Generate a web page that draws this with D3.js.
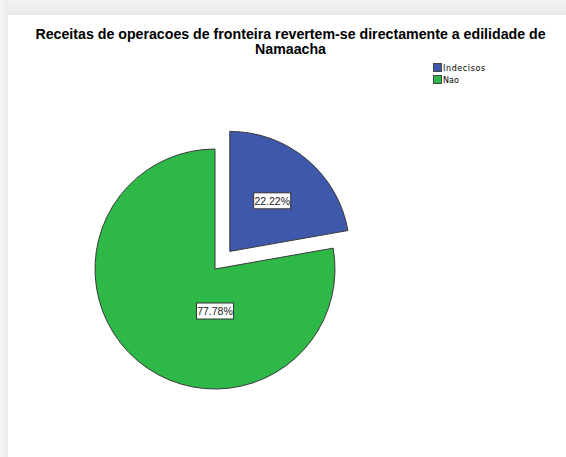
<!DOCTYPE html>
<html>
<head>
<meta charset="utf-8">
<script src="https://cdn.jsdelivr.net/npm/d3@7"></script>
<style>
  body { margin: 0; background: #fff; }
</style>
</head>
<body>
<div id="chart-area"></div>
<script>
// data
var categories = ["Indecisos", "Nao"];
var percents = [22.22, 77.78];
var colors = ["#3e58ac", "#2eb848"];
var titleLines = ["Receitas de operacoes de fronteira revertem-se directamente a edilidade de", "Namaacha"];

var width = 566;
var height = 457;

var svg = d3.select("#chart-area")
    .append("svg")
    .attr("width", width)
    .attr("height", height);

// gray frame / shadow like the viewer
var defs = svg.append("defs");
var gTop = defs.append("linearGradient").attr("id", "shTop").attr("x1", 0).attr("y1", 0).attr("x2", 0).attr("y2", 1);
gTop.append("stop").attr("offset", "0%").attr("stop-color", "#f4f4f4");
gTop.append("stop").attr("offset", "100%").attr("stop-color", "#e9e9e9");
var gLeft = defs.append("linearGradient").attr("id", "shLeft").attr("x1", 0).attr("y1", 0).attr("x2", 1).attr("y2", 0);
gLeft.append("stop").attr("offset", "0%").attr("stop-color", "#f6f6f6");
gLeft.append("stop").attr("offset", "100%").attr("stop-color", "#ececec");

svg.append("rect").attr("x", 0).attr("y", 0).attr("width", width).attr("height", 15).attr("fill", "url(#shTop)");
svg.append("rect").attr("x", 0).attr("y", 0).attr("width", 8).attr("height", height).attr("fill", "url(#shLeft)");

// title
svg.append("g")
    .selectAll("text")
    .data(titleLines)
    .enter()
    .append("text")
    .attr("x", 290.5)
    .attr("y", (d, i) => 39 + i * 15)
    .attr("text-anchor", "middle")
    .attr("font-family", "Liberation Sans, Arial, sans-serif")
    .attr("font-weight", "bold")
    .attr("font-size", "14.2px")
    .attr("fill", "#000")
    .text((d) => d);

// pie
var radius = 120;
var cx = 215, cy = 269;
var explode = 23;

var pie = d3.pie().sort(null).value((d) => d);
var arcs = pie(percents);

var arc = d3.arc().innerRadius(0).outerRadius(radius);

var g = svg.append("g")
    .attr("transform", "translate(" + cx + ", " + cy + ")");

function offset(d, i) {
    if (i !== 0) return [0, 0];
    var a = (d.startAngle + d.endAngle) / 2;
    return [Math.sin(a) * explode, -Math.cos(a) * explode];
}

g.selectAll("path")
    .data(arcs)
    .enter()
    .append("path")
    .attr("d", arc)
    .attr("transform", (d, i) => "translate(" + offset(d, i) + ")")
    .attr("fill", (d, i) => colors[i])
    .attr("stroke", "#3a3a3a")
    .attr("stroke-width", 1)
    .attr("stroke-linejoin", "round");

// labels (blue sits on its bisector, green label sits straight under the center)
function labelPos(d, i) {
    var o = offset(d, i);
    if (i === 0) {
        var a = (d.startAngle + d.endAngle) / 2;
        return [o[0] + Math.sin(a) * radius * 0.55, o[1] - Math.cos(a) * radius * 0.55];
    }
    return [0, radius * 0.35];
}

var labels = g.selectAll(".lbl")
    .data(arcs)
    .enter()
    .append("g")
    .attr("class", "lbl")
    .attr("transform", (d, i) => "translate(" + labelPos(d, i) + ")");

labels.append("rect")
    .attr("x", -18.5)
    .attr("y", -8)
    .attr("width", 37)
    .attr("height", 16)
    .attr("fill", "#fff")
    .attr("stroke", "#333")
    .attr("stroke-width", 1);

labels.append("text")
    .attr("text-anchor", "middle")
    .attr("y", 4)
    .attr("font-family", "Liberation Sans, Arial, sans-serif")
    .attr("font-size", "10.5px")
    .attr("fill", "#222")
    .text((d, i) => percents[i].toFixed(2) + "%");

// legend
var legend = svg.append("g")
    .attr("transform", "translate(433, 63)");

var items = legend.selectAll("g")
    .data(categories)
    .enter()
    .append("g")
    .attr("transform", (d, i) => "translate(0, " + i * 12 + ")");

items.append("rect")
    .attr("x", 0.5)
    .attr("y", 0.5)
    .attr("width", 8)
    .attr("height", 8)
    .attr("fill", (d, i) => colors[i])
    .attr("stroke", "#444");

items.append("text")
    .attr("x", 10)
    .attr("y", 8)
    .attr("font-family", "DejaVu Sans, sans-serif")
    .attr("font-size", "8px")
    .attr("letter-spacing", (d, i) => i === 0 ? "0.6px" : "0px")
    .attr("fill", "#000")
    .text((d) => d);
</script>
</body>
</html>
